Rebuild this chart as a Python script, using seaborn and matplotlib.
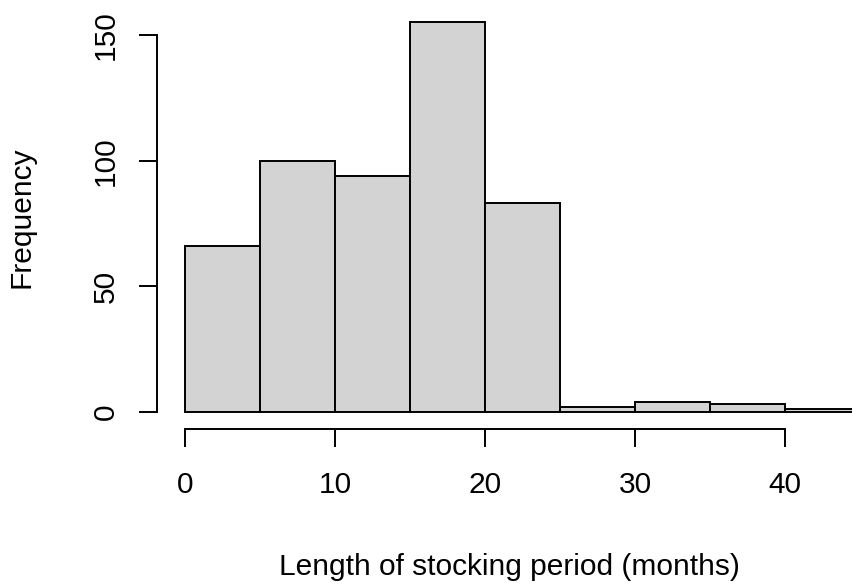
import numpy as np
import pandas as pd
import matplotlib
matplotlib.use("Agg")
import matplotlib.pyplot as plt
import seaborn as sns

# Histogram bins (months) and counts per bin
bin_edges = [0, 5, 10, 15, 20, 25, 30, 35, 40, 45]
counts = [66, 100, 94, 155, 83, 2, 4, 3, 1]
x_ticks = [0, 10, 20, 30, 40]
y_ticks = [0, 50, 100, 150]

sns.set_style("white")
plt.rcParams["font.family"] = ["Liberation Sans", "DejaVu Sans"]
plt.rcParams["text.color"] = "black"

W, H, DPI = 853, 585, 100
fig = plt.figure(figsize=(W / DPI, H / DPI), dpi=DPI)

# axes rectangle in pixels
ax_left, ax_right, ax_top, ax_bottom = 170, 853, 10, 418
ax = fig.add_axes([ax_left / W, 1 - ax_bottom / H,
                   (ax_right - ax_left) / W, (ax_bottom - ax_top) / H])

edges = np.array(bin_edges, dtype=float)
centers = (edges[:-1] + edges[1:]) / 2
df = pd.DataFrame({"months": centers, "n": counts})

sns.histplot(data=df, x="months", weights="n", bins=list(bin_edges),
             stat="count", color="#D3D3D3", facecolor="#D3D3D3",
             edgecolor="black", linewidth=1.4, alpha=1, ax=ax)

# scale: 15 px per month, 2.513 px per count
px_x, px_y = 15.0, 2.513
x0_px, y0_px = 185, 412
ax.set_xlim((ax_left - x0_px) / px_x, (ax_right - x0_px) / px_x)
ax.set_ylim((y0_px - ax_bottom) / px_y, (y0_px - ax_top) / px_y)

for s in ["top", "right"]:
    ax.spines[s].set_visible(False)
ax.spines["left"].set_position(("outward", 13 * 72 / DPI))
ax.spines["bottom"].set_position(("outward", 11 * 72 / DPI))
ax.spines["left"].set_bounds(0, 150)
ax.spines["bottom"].set_bounds(0, 40)
for s in ["left", "bottom"]:
    ax.spines[s].set_linewidth(1.4)
    ax.spines[s].set_color("black")

fs = 21.5
ax.set_xticks(x_ticks)
ax.set_yticks(y_ticks)
ax.set_xticklabels([str(v) for v in x_ticks])
ax.set_yticklabels([str(v) for v in y_ticks], rotation=90, va="center")
ax.tick_params(axis="both", direction="out", length=13, width=1.4,
               colors="black", labelcolor="black", labelsize=fs,
               left=True, bottom=True)
ax.tick_params(axis="x", pad=17)
ax.tick_params(axis="y", pad=14)
ax.set_xlabel("")
ax.set_ylabel("")

fig.text(509 / W, 1 - 575 / H, "Length of stocking period (months)",
         ha="center", va="baseline", fontsize=fs, color="black")
fig.text(22 / W, 1 - 217 / H, "Frequency", rotation=90,
         ha="center", va="center", fontsize=fs, color="black")

fig.savefig("out.png", dpi=DPI)
